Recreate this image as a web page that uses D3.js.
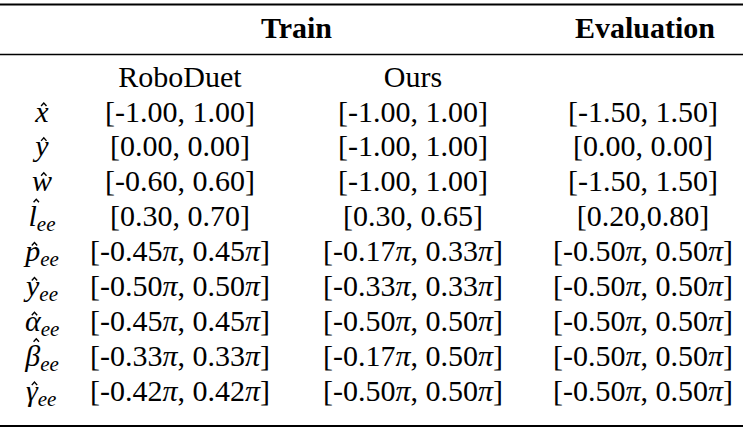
<!DOCTYPE html>
<html><head><meta charset="utf-8">
<script src="https://cdn.jsdelivr.net/npm/d3@7"></script>
</head>
<body style="margin:0;font-family:'Liberation Serif'">
<svg id="c" width="743" height="433" style="font-family:'Liberation Serif'"></svg>
<script>
// ---- data ----
const groupHeaders = ["Train", "Evaluation"];
const methods = ["RoboDuet", "Ours"];
const rowLetters = ["x", "y", "w", "l", "p", "y", "α", "β", "γ"];
const rowSubs = ["", "", "", "ee", "ee", "ee", "ee", "ee", "ee"];
const roboDuet = ["[-1.00, 1.00]", "[0.00, 0.00]", "[-0.60, 0.60]", "[0.30, 0.70]", "[-0.45π, 0.45π]", "[-0.50π, 0.50π]", "[-0.45π, 0.45π]", "[-0.33π, 0.33π]", "[-0.42π, 0.42π]"];
const ours = ["[-1.00, 1.00]", "[-1.00, 1.00]", "[-1.00, 1.00]", "[0.30, 0.65]", "[-0.17π, 0.33π]", "[-0.33π, 0.33π]", "[-0.50π, 0.50π]", "[-0.17π, 0.50π]", "[-0.50π, 0.50π]"];
const evaluation = ["[-1.50, 1.50]", "[0.00, 0.00]", "[-1.50, 1.50]", "[0.20,0.80]", "[-0.50π, 0.50π]", "[-0.50π, 0.50π]", "[-0.50π, 0.50π]", "[-0.50π, 0.50π]", "[-0.50π, 0.50π]"];

const W = 743, H = 433;
const FS = 30;
const FSTYLE = "font-family: 'Liberation Serif'";
const svg = d3.select("#c");

const cols = ["label", "roboduet", "ours", "evaluation"];
const x = d3.scaleOrdinal().domain(cols).range([42, 180, 413, 643]);
const rowKeys = ["method"].concat(rowLetters.map((d, i) => "r" + i));
const y = d3.scalePoint().domain(rowKeys).range([78, 392]);
const baseOff = 0.29 * FS;

// rules
const rules = [{y: 4.5, w: 2.2}, {y: 54.5, w: 1.3}, {y: 426, w: 2.2}];
svg.selectAll("line.rule").data(rules).join("line")
  .attr("x1", 0).attr("x2", W).attr("y1", d => d.y).attr("y2", d => d.y)
  .attr("stroke", "#000").attr("stroke-width", d => d.w);

// group headers
const hdrX = [(x("roboduet") + x("ours")) / 2, x("evaluation") + 2];
svg.selectAll("text.hdr").data(groupHeaders).join("text")
  .attr("class", "hdr").attr("x", (d, i) => hdrX[i]).attr("y", 38)
  .attr("style", FSTYLE + "; font-weight: bold")
  .attr("font-size", FS).attr("text-anchor", "middle")
  .text(d => d);

// method headers
svg.selectAll("text.meth").data(methods).join("text")
  .attr("class", "meth").attr("x", (d, i) => x(cols[i + 1])).attr("y", y("method") + baseOff)
  .attr("style", FSTYLE)
  .attr("font-size", FS).attr("text-anchor", "middle").text(d => d);

// value cells
function cell(sel, str) {
  const parts = str.split("π");
  parts.forEach((p, i) => {
    if (p) sel.append("tspan").text(p);
    if (i < parts.length - 1) sel.append("tspan").attr("style", FSTYLE + "; font-style: italic").text("π");
  });
}
const colData = [["roboduet", roboDuet], ["ours", ours], ["evaluation", evaluation]];
colData.forEach(([key, arr]) => {
  svg.selectAll("text.v-" + key).data(arr).join("text")
    .attr("class", "v-" + key)
    .attr("x", x(key)).attr("y", (d, i) => y("r" + i) + baseOff)
    .attr("style", FSTYLE)
    .attr("font-size", FS).attr("text-anchor", "middle")
    .each(function(d) { cell(d3.select(this), d); });
});

// row labels (math) with hats drawn as paths; approximate italic glyph widths (em)
const glyphW = {"x": 0.444, "y": 0.444, "w": 0.667, "l": 0.278, "p": 0.5, "α": 0.52, "β": 0.5, "γ": 0.45};
const subScale = 0.7;
const tall = {"l": true, "β": true};
const hatLine = d3.line();
rowLetters.forEach((L, i) => {
  const by = y("r" + i) + baseOff;
  const lw = glyphW[L] * FS;
  const sw = rowSubs[i] ? rowSubs[i].length * 0.444 * subScale * FS : 0;
  const left = x("label") - (lw + sw) / 2;
  const g = svg.append("g").attr("transform", `translate(${left},0)`);
  const t = g.append("text").attr("x", 0).attr("y", by).attr("font-size", FS)
    .attr("style", FSTYLE + "; font-style: italic");
  t.append("tspan").text(L);
  if (rowSubs[i]) t.append("tspan").attr("font-size", FS * subScale).attr("dy", FS * 0.16).text(rowSubs[i]);
  const cx = lw / 2 + FS * (tall[L] ? 0.12 : 0.06);
  const top = by - FS * (tall[L] ? 0.9 : 0.62);
  const hw = FS * 0.09, hh = FS * 0.1;
  g.append("path").attr("d", hatLine([[cx - hw, top + hh], [cx, top], [cx + hw, top + hh]]))
    .attr("fill", "none").attr("stroke", "#000").attr("stroke-width", 1.4);
});
</script>
</body></html>
